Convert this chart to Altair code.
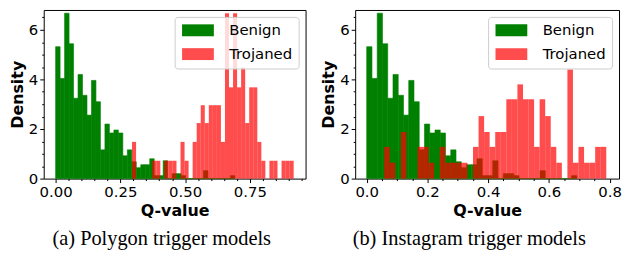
import altair as alt
import numpy as np
import pandas as pd

# ---------------- data ----------------
CATEGORIES = ["Benign", "Trojaned"]
LEGEND_COLORS = ["#008000", "#ff4d4d"]

# Benign Q-value density (identical in both panels), 40 bins over this range
BENIGN_RANGE = [0.0, 0.692]
BENIGN_DENSITY = [5.32, 4.04, 6.67, 5.44, 3.24, 4.2, 3.36, 2.56, 3.96, 3.1,
                  1.16, 2.2, 1.84, 1.96, 1.84, 0.92, 1.16, 0.68, 0.44, 0.56,
                  0.56, 0.8, 0.12, 0.12, 0.72, 0.0, 0.2, 0.2, 0.12, 0.0,
                  0.0, 0.0, 0.0, 0.32, 0.0, 0.0, 0.0, 0.0, 0.0, 0.12]

# Trojaned, Polygon trigger models (40 bins)
POLY_RANGE = [0.295, 0.919]
POLY_DENSITY = [1.48, 0.0, 0.0, 0.0, 0.0, 0.72, 0.72, 0.0, 0.72, 0.72,
                0.72, 0.0, 1.48, 0.72, 0.0, 1.48, 2.24, 2.96, 2.24, 2.96,
                2.96, 2.96, 1.48, 6.67, 3.68, 6.67, 3.68, 4.48, 2.24, 3.68,
                3.68, 1.48, 0.72, 0.0, 0.72, 0.72, 0.0, 0.72, 0.72, 0.72]

# Trojaned, Instagram trigger models (40 bins)
INSTA_RANGE = [0.0575, 0.789]
INSTA_DENSITY = [1.28, 0.64, 0.0, 1.88, 0.0, 0.0, 1.28, 1.28, 0.64, 0.0,
                 1.28, 0.64, 0.64, 0.64, 0.64, 0.0, 1.28, 2.52, 1.88, 1.28,
                 1.88, 1.88, 3.2, 3.2, 3.8, 3.2, 3.2, 1.28, 3.2, 2.52,
                 1.28, 0.64, 0.0, 4.4, 0.64, 1.28, 0.64, 0.64, 1.28, 1.28]

# axes
Y_DOMAIN = [0, 6.8]
Y_MAJOR = [0, 2, 4, 6]
Y_MINOR = [0.5, 1, 1.5, 2.5, 3, 3.5, 4.5, 5, 5.5, 6.5]

POLY_X_DOMAIN = [-0.046, 0.965]
POLY_X_MAJOR = [0, 0.25, 0.5, 0.75]
POLY_X_MINOR = [0.05, 0.1, 0.15, 0.2, 0.3, 0.35, 0.4, 0.45, 0.55, 0.6, 0.65, 0.7, 0.8, 0.85, 0.9, 0.95]

INSTA_X_DOMAIN = [-0.038, 0.831]
INSTA_X_MAJOR = [0, 0.2, 0.4, 0.6, 0.8]
INSTA_X_MINOR = [0.05, 0.1, 0.15, 0.25, 0.3, 0.35, 0.45, 0.5, 0.55, 0.65, 0.7, 0.75]

CAPTIONS = ["(a) Polygon trigger models", "(b) Instagram trigger models"]


def hist_frame(rng, dens, name):
    edges = np.linspace(rng[0], rng[1], len(dens) + 1)
    return pd.DataFrame({"x0": edges[:-1], "x1": edges[1:], "density": dens,
                         "base": 0.0, "series": name})


def panel(troj_rng, troj_dens, x_domain, x_major, x_minor, fmt, caption, width, cap_dx):
    gdf = hist_frame(BENIGN_RANGE, BENIGN_DENSITY, "Benign")
    rdf = hist_frame(troj_rng, troj_dens, "Trojaned")
    mdf = pd.DataFrame({"mx": x_minor, "my": [1.0] * len(x_minor)})
    xs = alt.Scale(domain=x_domain, nice=False, zero=False)
    ys = alt.Scale(domain=Y_DOMAIN, nice=False, zero=False)

    green = alt.Chart(gdf).mark_rect(opacity=1, stroke="#008000", strokeWidth=0.6).encode(
        x=alt.X("x0:Q", scale=xs, axis=alt.Axis(values=x_major, format=fmt, title="Q-value",
                                                 orient="bottom", labelFlush=False)),
        x2="x1:Q",
        y=alt.Y("density:Q", scale=ys, axis=alt.Axis(values=Y_MAJOR, title="Density", orient="left")),
        y2="base:Q",
        color=alt.Color("series:N", scale=alt.Scale(domain=CATEGORIES, range=LEGEND_COLORS),
                        legend=alt.Legend(title=None, orient="top-right", offset=7, padding=6,
                                          fillColor="rgba(255,255,255,0.8)", strokeColor="#cccccc",
                                          cornerRadius=3, labelFont="DejaVu Sans", labelFontSize=15,
                                          labelColor="black", symbolType="M-2.67,-1H2.67V1H-2.67Z",
                                          symbolSize=144, symbolStrokeWidth=0, symbolOffset=10,
                                          labelOffset=24, rowPadding=8)),
    )
    red = alt.Chart(rdf).mark_rect(opacity=0.7, color="#ff0000", strokeWidth=0).encode(
        x=alt.X("x0:Q", scale=xs, axis=None),
        x2="x1:Q",
        y=alt.Y("density:Q", scale=ys, axis=None),
        y2="base:Q",
    )
    minor = alt.Chart(mdf).mark_point(opacity=0).encode(
        x=alt.X("mx:Q", scale=xs, axis=alt.Axis(values=x_minor, labels=False, tickSize=2,
                                                 title=None, orient="bottom")),
        y=alt.Y("my:Q", scale=ys, axis=alt.Axis(values=Y_MINOR, labels=False, tickSize=2,
                                                 title=None, orient="left")),
    )
    return alt.layer(green, red, minor).resolve_axis(x="independent", y="independent").properties(
        width=width, height=170,
        title=alt.TitleParams(caption, orient="bottom", font="Liberation Serif", fontSize=20.5,
                              fontWeight="normal", color="black", offset=11, dx=cap_dx),
    )


left = panel(POLY_RANGE, POLY_DENSITY, POLY_X_DOMAIN, POLY_X_MAJOR, POLY_X_MINOR, ".2f",
             CAPTIONS[0], 264, -13)
right = panel(INSTA_RANGE, INSTA_DENSITY, INSTA_X_DOMAIN, INSTA_X_MAJOR, INSTA_X_MINOR, ".1f",
              CAPTIONS[1], 266, -18)

chart = alt.hconcat(left, right, spacing=13).resolve_scale(
    x="independent", y="independent", color="independent"
).properties(
    padding={"left": 0, "top": 0, "right": 0, "bottom": 0}
).configure_view(
    stroke="black", strokeWidth=1
).configure_axis(
    domain=False, grid=False, tickColor="black", tickWidth=1, tickSize=4,
    labelFont="DejaVu Sans", labelFontSize=15, labelColor="black", labelPadding=2,
    titleFont="DejaVu Sans", titleFontSize=16, titleFontWeight="bold", titleColor="black",
    titlePadding=3,
)

chart.save("out.html", embed_options={"renderer": "svg", "actions": False})
